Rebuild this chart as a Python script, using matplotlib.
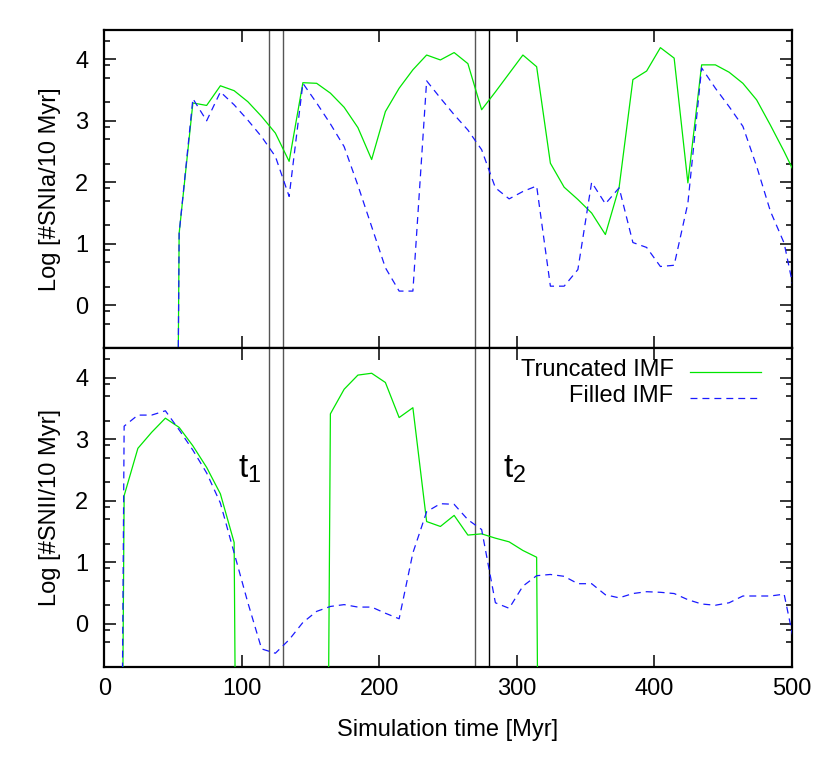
import numpy as np
import matplotlib
matplotlib.use("Agg")
import matplotlib.pyplot as plt

plt.rcParams['font.family'] = ['Liberation Sans', 'DejaVu Sans']
plt.rcParams['mathtext.fontset'] = 'custom'
plt.rcParams['mathtext.rm'] = 'Liberation Sans'
plt.rcParams['lines.scale_dashes'] = False

# time grid [Myr]
time = [4.5, 14.5, 24.5, 34.5, 44.5, 54.5, 64.5, 74.5, 84.5, 94.5,
        104.5, 114.5, 124.5, 134.5, 144.5, 154.5, 164.5, 174.5, 184.5, 194.5,
        204.5, 214.5, 224.5, 234.5, 244.5, 254.5, 264.5, 274.5, 284.5, 294.5,
        304.5, 314.5, 324.5, 334.5, 344.5, 354.5, 364.5, 374.5, 384.5, 394.5,
        404.5, 414.5, 424.5, 434.5, 444.5, 454.5, 464.5, 474.5, 484.5, 494.5,
        504.5]

# log10 SNIa per 10 Myr (-30 = no events)
snia_truncated = [-30, -30, -30, -30, -30, 1.17, 3.29, 3.25, 3.57, 3.49,
                  3.31, 3.07, 2.80, 2.34, 3.62, 3.61, 3.45, 3.22, 2.89, 2.37,
                  3.15, 3.53, 3.83, 4.07, 3.99, 4.11, 3.93, 3.18, 3.47, 3.77,
                  4.07, 3.88, 2.31, 1.92, 1.72, 1.50, 1.15, 1.92, 3.67, 3.81,
                  4.19, 4.02, 1.99, 3.91, 3.91, 3.79, 3.61, 3.34, 2.93, 2.50,
                  2.04]
snia_filled = [-30, -30, -30, -30, -30, 1.17, 3.36, 3.00, 3.47, 3.26,
               3.01, 2.74, 2.42, 1.77, 3.61, 3.29, 2.95, 2.58, 1.95, 1.28,
               0.61, 0.23, 0.23, 3.65, 3.37, 3.10, 2.85, 2.53, 1.91, 1.73,
               1.85, 1.94, 0.31, 0.31, 0.58, 2.00, 1.65, 1.91, 1.02, 0.94,
               0.63, 0.65, 1.66, 3.86, 3.53, 3.23, 2.91, 2.26, 1.53, 1.01,
               -0.07]

# log10 SNII per 10 Myr
snii_truncated = [-30, 2.08, 2.85, 3.11, 3.34, 3.19, 2.89, 2.54, 2.11, 1.32,
                  -30, -30, -30, -30, -30, -30, 3.41, 3.81, 4.04, 4.07,
                  3.92, 3.35, 3.51, 1.66, 1.58, 1.76, 1.44, 1.46, 1.39, 1.33,
                  1.19, 1.08, -30, -30, -30, -30, -30, -30, -30, -30,
                  -30, -30, -30, -30, -30, -30, -30, -30, -30, -30,
                  -30]
snii_filled = [-30, 3.21, 3.39, 3.39, 3.46, 3.15, 2.82, 2.45, 1.96, 1.15,
               0.34, -0.41, -0.48, -0.26, 0.02, 0.20, 0.28, 0.31, 0.27, 0.27,
               0.17, 0.08, 1.15, 1.82, 1.95, 1.94, 1.69, 1.53, 0.34, 0.25,
               0.61, 0.78, 0.80, 0.77, 0.65, 0.65, 0.47, 0.42, 0.49, 0.52,
               0.51, 0.49, 0.39, 0.32, 0.30, 0.34, 0.45, 0.45, 0.45, 0.48,
               -0.6]

marker_times = [120, 130, 270, 280]
marker_colors = ['#555555', '#555555', '#555555', '#000000']
labels = ['Truncated IMF', 'Filled IMF']
green = '#00e600'
blue = '#1a1aff'

fig = plt.figure(figsize=(8.3, 7.76), dpi=100)
W, H = 830.0, 776.0
x0, x1 = 104.2, 791.7
ax_top = fig.add_axes([x0 / W, 1 - 348.2 / H, (x1 - x0) / W, (348.2 - 30) / H])
ax_bot = fig.add_axes([x0 / W, 1 - 666.7 / H, (x1 - x0) / W, (666.7 - 348.2) / H])

ylim = (np.log10(0.2), np.log10(3e4))
minor = np.log10([0.2, 0.5, 0.8, 2, 5, 8, 20, 50, 80, 200, 500, 800,
                  2000, 5000, 8000, 20000])

for ax, tr, fi, ylab in [(ax_top, snia_truncated, snia_filled, 'Log [#SNIa/10 Myr]'),
                         (ax_bot, snii_truncated, snii_filled, 'Log [#SNII/10 Myr]')]:
    for t, c in zip(marker_times, marker_colors):
        ax.axvline(t, color=c, lw=1.0, zorder=1)
    ax.plot(time, tr, color=green, lw=0.9, zorder=3)
    ax.plot(time, fi, color=blue, lw=0.9, dashes=(5, 3.6), zorder=4)
    ax.set_xlim(0, 500)
    ax.set_ylim(*ylim)
    ax.set_xticks([0, 100, 200, 300, 400, 500])
    ax.set_yticks([0, 1, 2, 3, 4])
    ax.set_yticks(minor, minor=True)
    ax.tick_params(which='major', direction='in', length=8.5, width=1.1,
                   top=True, right=True, labelsize=17, pad=11.5)
    ax.tick_params(which='minor', direction='in', length=4, width=1.1,
                   left=True, right=True)
    ax.tick_params(axis='x', which='minor', bottom=False, top=False)
    for s in ax.spines.values():
        s.set_linewidth(1.6)
    ax.set_ylabel(ylab, fontsize=17)
    ax.yaxis.set_label_coords(-0.063, 0.5)

ax_top.tick_params(axis='x', labelbottom=False)
ax_bot.tick_params(axis='x', pad=8)
ax_bot.set_xlabel('Simulation time [Myr]', fontsize=17, labelpad=14)

ax_bot.text(97.3, 2.37, r'$\mathregular{t_1}$', fontsize=24, ha='left',
            va='baseline')
ax_bot.text(290, 2.37, r'$\mathregular{t_2}$', fontsize=24, ha='left',
            va='baseline')

# legend
ax_bot.text(0.828, 0.931, labels[0], transform=ax_bot.transAxes, fontsize=17,
            ha='right', va='center')
ax_bot.text(0.828, 0.849, labels[1], transform=ax_bot.transAxes, fontsize=17,
            ha='right', va='center')
ax_bot.plot([0.852, 0.956], [0.926, 0.926], transform=ax_bot.transAxes,
            color=green, lw=0.9)
ax_bot.plot([0.852, 0.956], [0.8446, 0.8446], transform=ax_bot.transAxes,
            color=blue, lw=0.9, dashes=(5, 3.6))

fig.savefig('out.png', dpi=100)
